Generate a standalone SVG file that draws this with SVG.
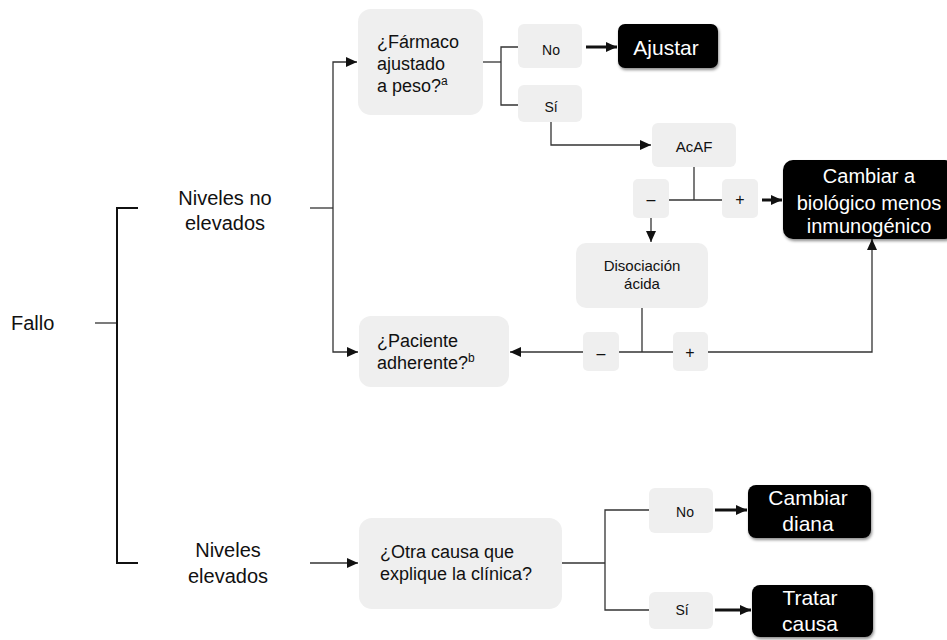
<svg xmlns="http://www.w3.org/2000/svg" width="947" height="640" viewBox="0 0 947 640">
<style>
  text { font-family: "Liberation Sans", Arial, sans-serif; fill: #111; }
  .gbox { fill: #efefef; }
  .bbox { fill: #050505; filter: url(#sh); }
  .w { fill: #ffffff; }
  .c { text-anchor: middle; }
  .ln { fill: none; stroke: #333; stroke-width: 1.3; }
  .br { fill: none; stroke: #111; stroke-width: 2; }
  .th { fill: none; stroke: #111; stroke-width: 3; }
</style>
<defs>
  <marker id="ah" markerUnits="userSpaceOnUse" markerWidth="12" markerHeight="12" refX="11" refY="6" orient="auto">
    <path d="M0,1 L11,6 L0,11 z" fill="#111"/>
  </marker>
  <filter id="sh" x="-10%" y="-10%" width="125%" height="135%">
    <feDropShadow dx="1" dy="2" stdDeviation="1.5" flood-color="#000" flood-opacity="0.45"/>
  </filter>
</defs>
<rect width="947" height="640" fill="#ffffff"/>

<g id="connectors">
  <path class="ln" d="M95,323 H117"/>
  <path class="br" d="M138,208 H117 V563 H138"/>
  <path class="ln" d="M310,208 H333"/>
  <path class="ln" d="M333,208 V62 H357" marker-end="url(#ah)"/>
  <path class="ln" d="M333,208 V352 H358" marker-end="url(#ah)"/>
  <path class="ln" d="M483,62 H501"/>
  <path class="ln" d="M518,47 H501 V105 H518"/>
  <path class="th" d="M586,47 H617" marker-end="url(#ah)"/>
  <path class="ln" d="M551,122 V145 H651" marker-end="url(#ah)"/>
  <path class="ln" d="M694,167 V200"/>
  <path class="ln" d="M669,200 H722"/>
  <path class="th" d="M762,200 H782" marker-end="url(#ah)"/>
  <path class="ln" d="M651,218 V242" marker-end="url(#ah)"/>
  <path class="ln" d="M642,308 V352"/>
  <path class="ln" d="M619,352 H673"/>
  <path class="ln" d="M583,352 H510" marker-end="url(#ah)"/>
  <path class="ln" d="M708,352 H872 V239" marker-end="url(#ah)"/>
  <path class="ln" d="M310,563 H358" marker-end="url(#ah)"/>
  <path class="ln" d="M562,563 H605"/>
  <path class="ln" d="M649,510 H605 V610 H649"/>
  <path class="th" d="M715,510 H747" marker-end="url(#ah)"/>
  <path class="th" d="M715,610 H751" marker-end="url(#ah)"/>
</g>

<g id="fallo">
  <text x="11" y="330" font-size="20">Fallo</text>
</g>
<g id="niveles-no-elevados">
  <text class="c" x="225" y="205" font-size="20">Niveles no</text>
  <text class="c" x="225" y="230" font-size="20">elevados</text>
</g>
<g id="niveles-elevados">
  <text class="c" x="228" y="557" font-size="20">Niveles</text>
  <text class="c" x="228" y="583" font-size="20">elevados</text>
</g>

<g id="farmaco">
  <rect class="gbox" x="358" y="9" width="125" height="106" rx="13"/>
  <text x="377" y="48" font-size="18">¿Fármaco</text>
  <text x="377" y="70" font-size="18">ajustado</text>
  <text x="377" y="92" font-size="18">a peso?<tspan font-size="12" dy="-7">a</tspan></text>
</g>
<g id="no1">
  <rect class="gbox" x="518" y="24" width="64" height="44" rx="6"/>
  <text class="c" x="551" y="55" font-size="14">No</text>
</g>
<g id="ajustar">
  <rect class="bbox" x="618" y="24" width="100" height="44" rx="7"/>
  <text class="c w" x="666" y="55" font-size="21">Ajustar</text>
</g>
<g id="si1">
  <rect class="gbox" x="518" y="85" width="64" height="37" rx="6"/>
  <text class="c" x="551" y="112" font-size="14">Sí</text>
</g>
<g id="acaf">
  <rect class="gbox" x="652" y="123" width="84" height="44" rx="6"/>
  <text class="c" x="694" y="152" font-size="15">AcAF</text>
</g>
<g id="minus1">
  <rect class="gbox" x="633" y="179" width="36" height="39" rx="5"/>
  <text class="c" x="651" y="205" font-size="16">–</text>
</g>
<g id="plus1">
  <rect class="gbox" x="722" y="179" width="36" height="39" rx="5"/>
  <text class="c" x="740" y="205" font-size="16">+</text>
</g>
<g id="cambiar-biologico">
  <rect class="bbox" x="783" y="160" width="172" height="79" rx="10"/>
  <text class="c w" x="869" y="183" font-size="20">Cambiar a</text>
  <text class="c w" x="869" y="210" font-size="20">biológico menos</text>
  <text class="c w" x="869" y="233" font-size="20">inmunogénico</text>
</g>
<g id="disociacion">
  <rect class="gbox" x="576" y="243" width="132" height="65" rx="10"/>
  <text class="c" x="642" y="271" font-size="15">Disociación</text>
  <text class="c" x="642" y="289" font-size="15">ácida</text>
</g>
<g id="minus2">
  <rect class="gbox" x="583" y="332" width="36" height="39" rx="5"/>
  <text class="c" x="601" y="359" font-size="16">–</text>
</g>
<g id="plus2">
  <rect class="gbox" x="673" y="332" width="35" height="39" rx="5"/>
  <text class="c" x="690" y="358" font-size="16">+</text>
</g>
<g id="paciente">
  <rect class="gbox" x="359" y="316" width="150" height="71" rx="12"/>
  <text x="377" y="347" font-size="18">¿Paciente</text>
  <text x="377" y="369" font-size="18">adherente?<tspan font-size="12" dy="-7">b</tspan></text>
</g>

<g id="otra-causa">
  <rect class="gbox" x="359" y="518" width="203" height="91" rx="13"/>
  <text x="380" y="558" font-size="18">¿Otra causa que</text>
  <text x="380" y="580" font-size="18">explique la clínica?</text>
</g>
<g id="no2">
  <rect class="gbox" x="649" y="488" width="64" height="45" rx="6"/>
  <text class="c" x="685" y="517" font-size="14">No</text>
</g>
<g id="si2">
  <rect class="gbox" x="649" y="592" width="64" height="37" rx="6"/>
  <text class="c" x="682" y="615" font-size="14">Sí</text>
</g>
<g id="cambiar-diana">
  <rect class="bbox" x="748" y="485" width="123" height="53" rx="8"/>
  <text class="c w" x="808" y="505" font-size="21">Cambiar</text>
  <text class="c w" x="808" y="531" font-size="21">diana</text>
</g>
<g id="tratar-causa">
  <rect class="bbox" x="752" y="585" width="121" height="52" rx="8"/>
  <text class="c w" x="810" y="605" font-size="21">Tratar</text>
  <text class="c w" x="810" y="631" font-size="21">causa</text>
</g>
</svg>
